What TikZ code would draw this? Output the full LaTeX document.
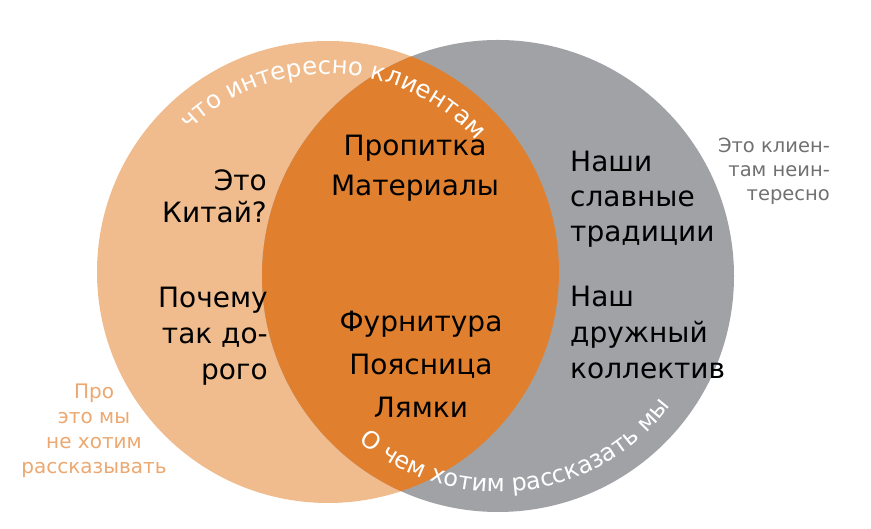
\documentclass[tikz,border=0pt]{standalone}
\usepackage{fontspec}
\setmainfont{DejaVu Sans}
\usetikzlibrary{calc,decorations.text}
\definecolor{lightor}{RGB}{240,188,142}
\definecolor{darkor}{RGB}{224,128,46}
\definecolor{grayc}{RGB}{160,162,166}
\definecolor{notegray}{RGB}{112,112,112}
\definecolor{noteor}{RGB}{236,168,112}
\tikzset{
  main/.style={inner sep=0pt, font=\fontsize{28}{40}\selectfont},
  note/.style={inner sep=0pt, font=\fontsize{20}{25}\selectfont},
  arctext/.style={decorate, decoration={text along path, text align=center, text={#1}}}
}
\begin{document}
\begin{tikzpicture}[x=1pt, y=1pt]
        % --- Frame ---
        \useasboundingbox (0,0) rectangle (871,529);

        % --- Circles ---
        \coordinate (lc) at (328,257);
        \coordinate (rc) at (498,253);
        \fill[lightor] (lc) circle (231);
        \fill[grayc] (rc) circle (236);
        \begin{scope}
            \clip (lc) circle (231);
            \fill[darkor] (rc) circle (236);
        \end{scope}

        % --- Curved captions ---
        \path[arctext={|\color{white}\fontsize{24.5}{24.5}\selectfont|что интересно клиентам}]
            ($(lc)+(136:198)$) arc[start angle=136, end angle=40, radius=198];
        \path[arctext={|\color{white}\fontsize{24}{24}\selectfont|О чем хотим рассказать мы}]
            ($(rc)+(226:216)$) arc[start angle=226, end angle=327, radius=216];

        % --- Middle ---
        \node[main, align=center] (impreg) at (415,361) {Пропитка\\Материалы};
        \node[main, align=center, font=\fontsize{28}{43}\selectfont] (fitting) at (421,165) {Фурнитура\\Поясница\\Лямки};

        % --- Left ---
        \node[main, align=right, anchor=east, font=\fontsize{28}{32}\selectfont] (china) at (267,333) {Это\\Китай?};
        \node[main, align=right, anchor=east, font=\fontsize{28}{36}\selectfont] (price) at (268,193) {Почему\\так до-\\рого};

        % --- Right ---
        \node[main, align=left, anchor=west, font=\fontsize{28}{35}\selectfont] (tradition) at (570,330) {Наши\\славные\\традиции};
        \node[main, align=left, anchor=west, font=\fontsize{28}{36}\selectfont] (team) at (570,197) {Наш\\дружный\\коллектив};

        % --- Side notes ---
        \node[note, align=right, anchor=east, text=notegray, font=\fontsize{19.5}{24}\selectfont] (boring) at (830,358) {Это клиен-\\там неин-\\тересно};
        \node[note, align=center, text=noteor] (secret) at (94,98) {Про\\это мы\\не хотим\\рассказывать};
\end{tikzpicture}
\end{document}
